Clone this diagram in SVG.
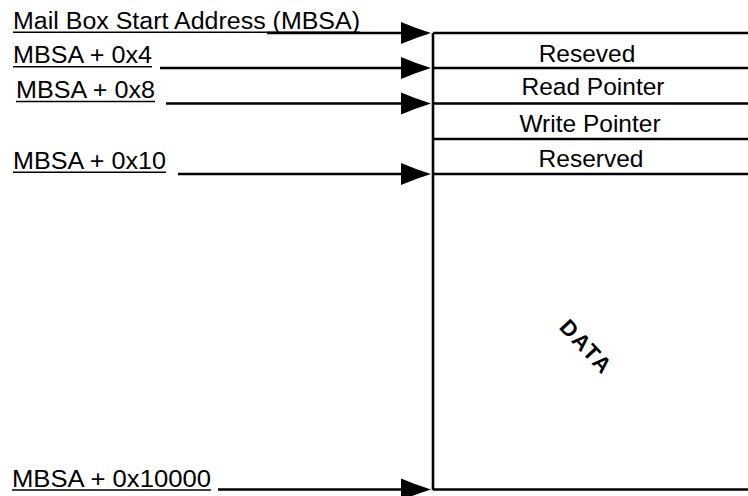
<svg xmlns="http://www.w3.org/2000/svg" width="748" height="496" viewBox="0 0 748 496">
<style>
.lbl{font-family:"Liberation Sans",Arial,sans-serif;font-size:23.5px;fill:#000}
.row{font-family:"Liberation Sans",Arial,sans-serif;font-size:24.5px;fill:#000;text-anchor:middle}
.ul{stroke:#000;stroke-width:1.6}
.ln{stroke:#000;stroke-width:2.6;fill:none}
</style>
<defs>
<path id="head" d="M-30,-11 Q-16,-5 0,0 Q-16,5 -30,11 Z"/>
</defs>
<rect width="748" height="496" fill="#fff"/>
<g id="memory">
<path class="ln" d="M433,33 V490 M433,33 H748 M433,68 H748 M433,103.5 H748 M433,139 H748 M433,174 H748 M433,489.5 H748"/>
</g>
<g id="row-reseved"><text class="row" x="587" y="62">Reseved</text></g>
<g id="row-read"><text class="row" x="593" y="95">Read Pointer</text></g>
<g id="row-write"><text class="row" x="590" y="132">Write Pointer</text></g>
<g id="row-reserved"><text class="row" x="591" y="167">Reserved</text></g>
<g id="data"><text x="585" y="348" transform="rotate(47 585 348)" text-anchor="middle" dominant-baseline="middle" font-family="'Liberation Sans',Arial,sans-serif" font-weight="bold" font-size="22" letter-spacing="2">DATA</text></g>
<g id="label-mbsa"><text class="lbl" x="13" y="29" textLength="347" lengthAdjust="spacingAndGlyphs">Mail Box Start Address (MBSA)</text><line class="ul" x1="13" y1="32.3" x2="360" y2="32.3"/></g>
<g id="label-4"><text class="lbl" x="13" y="63" textLength="139" lengthAdjust="spacingAndGlyphs">MBSA + 0x4</text><line class="ul" x1="13" y1="66.7" x2="152" y2="66.7"/></g>
<g id="label-8"><text class="lbl" x="16" y="97.5" textLength="139" lengthAdjust="spacingAndGlyphs">MBSA + 0x8</text><line class="ul" x1="16" y1="101.5" x2="155" y2="101.5"/></g>
<g id="label-10"><text class="lbl" x="13" y="169" textLength="153" lengthAdjust="spacingAndGlyphs">MBSA + 0x10</text><line class="ul" x1="13" y1="172.3" x2="166" y2="172.3"/></g>
<g id="label-10000"><text class="lbl" x="12" y="486.5" textLength="199" lengthAdjust="spacingAndGlyphs">MBSA + 0x10000</text><line class="ul" x1="12" y1="490" x2="211" y2="490"/></g>
<g id="connectors">
<line class="ln" x1="267" y1="33" x2="402" y2="33"/><use href="#head" x="431" y="33"/>
<line class="ln" x1="160" y1="68" x2="402" y2="68"/><use href="#head" x="431" y="68"/>
<line class="ln" x1="166" y1="103.5" x2="402" y2="103.5"/><use href="#head" x="431" y="103.5"/>
<line class="ln" x1="178" y1="174" x2="402" y2="174"/><use href="#head" x="431" y="174"/>
<line class="ln" x1="218" y1="489.5" x2="402" y2="489.5"/><use href="#head" x="431" y="489.5"/>
</g>
</svg>
